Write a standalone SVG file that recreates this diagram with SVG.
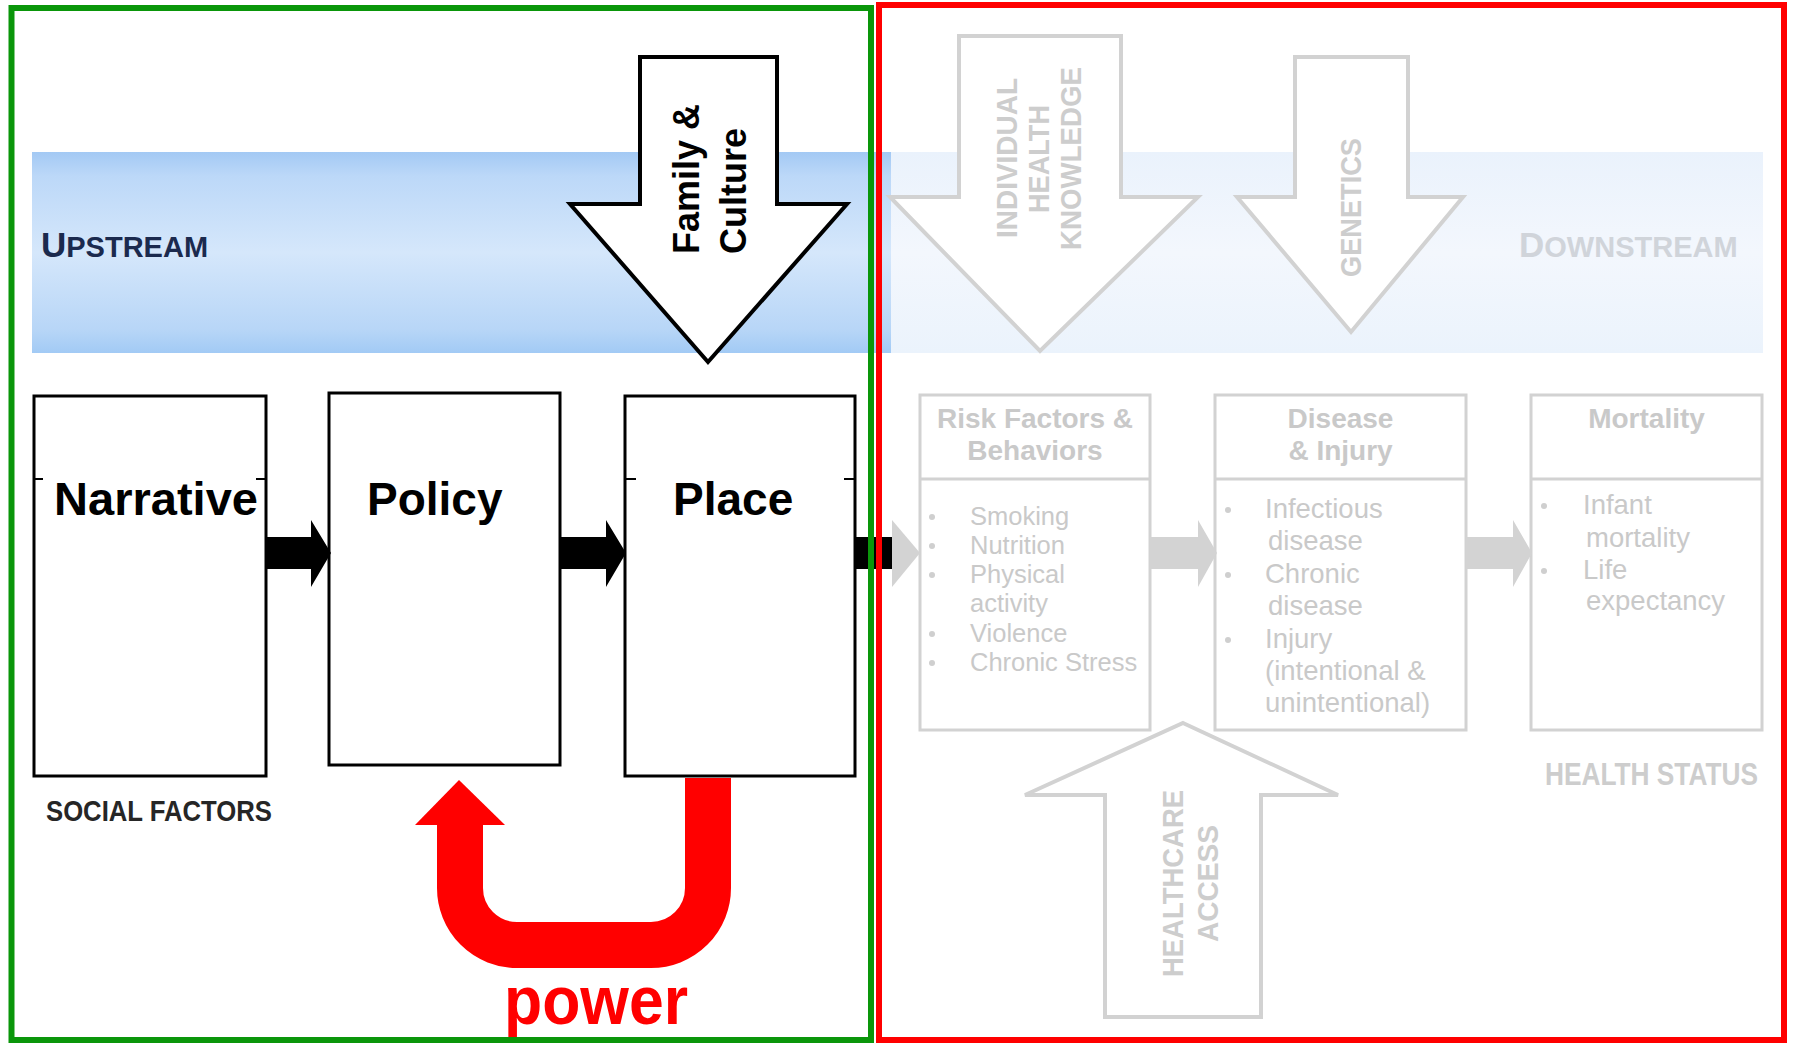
<svg xmlns="http://www.w3.org/2000/svg" width="1795" height="1044" viewBox="0 0 1795 1044">
<defs>
<linearGradient id="bandL" x1="0" y1="0" x2="0" y2="1">
<stop offset="0" stop-color="#a3c9f4"/>
<stop offset="0.12" stop-color="#bcd8f8"/>
<stop offset="0.5" stop-color="#d5e7fb"/>
<stop offset="0.88" stop-color="#b8d6f7"/>
<stop offset="1" stop-color="#a2caf5"/>
</linearGradient>
<linearGradient id="bandR" x1="0" y1="0" x2="0" y2="1">
<stop offset="0" stop-color="#eaf2fc"/>
<stop offset="0.5" stop-color="#f3f7fd"/>
<stop offset="1" stop-color="#ebf3fc"/>
</linearGradient>
<style>
text{font-family:"Liberation Sans",Arial,sans-serif}
.box{fill:#fff;stroke:#000;stroke-width:3}
.gbox{fill:#fff;stroke:#d2d2d2;stroke-width:3}
.big{font-size:46px;font-weight:bold;fill:#000}
.gtitle{font-size:28px;font-weight:bold;fill:#c9c9c9;text-anchor:middle}
.gbody{font-size:27.5px;fill:#c9c9c9}
.gbody2{font-size:25.5px;fill:#c9c9c9}
.bul{fill:#cfcfcf}
.garrow{fill:#fff;stroke:#d2d2d2;stroke-width:4}
.gvert{font-size:30px;font-weight:bold;fill:#cdcdcd;text-anchor:middle}
.blk{fill:#000}
.gry{fill:#d3d3d3}
</style>
</defs>
<rect width="1795" height="1044" fill="#fff"/>
<!-- bands -->
<rect x="32" y="152" width="859" height="201" fill="url(#bandL)"/>
<rect x="891" y="152" width="872" height="201" fill="url(#bandR)"/>
<g id="labels">
<text x="41" y="257" fill="#1b2a4e" font-weight="bold"><tspan font-size="35">U</tspan><tspan font-size="29">PSTREAM</tspan></text>
<text x="1519" y="257" fill="#d0d4da" font-weight="bold"><tspan font-size="35">D</tspan><tspan font-size="29">OWNSTREAM</tspan></text>
<text x="46" y="821" fill="#262626" font-weight="bold" font-size="30" textLength="226" lengthAdjust="spacingAndGlyphs">SOCIAL FACTORS</text>
<text x="1545" y="785" fill="#cdcdcd" font-weight="bold" font-size="31" textLength="213" lengthAdjust="spacingAndGlyphs">HEALTH STATUS</text>
</g>
<!-- faded right side arrows -->
<g id="individual-health-knowledge">
<polygon class="garrow" points="959,36 1121,36 1121,197 1198,197 1040,351 890,197 959,197"/>
<text class="gvert" transform="translate(1017,158) rotate(-90)" textLength="160" lengthAdjust="spacingAndGlyphs">INDIVIDUAL</text>
<text class="gvert" transform="translate(1049,159) rotate(-90)" textLength="108" lengthAdjust="spacingAndGlyphs">HEALTH</text>
<text class="gvert" transform="translate(1081,158.5) rotate(-90)" textLength="183" lengthAdjust="spacingAndGlyphs">KNOWLEDGE</text>
</g>
<g id="genetics">
<polygon class="garrow" points="1295,57 1408,57 1408,197 1463,197 1351,332 1237,197 1295,197"/>
<text class="gvert" transform="translate(1361,207.5) rotate(-90)" textLength="139" lengthAdjust="spacingAndGlyphs">GENETICS</text>
</g>
<g id="healthcare-access">
<polygon class="garrow" points="1183,723 1338,795 1261,795 1261,1017 1105,1017 1105,795 1025,795"/>
<text class="gvert" transform="translate(1183,883.5) rotate(-90)" textLength="187" lengthAdjust="spacingAndGlyphs">HEALTHCARE</text>
<text class="gvert" transform="translate(1218,883.5) rotate(-90)" textLength="117" lengthAdjust="spacingAndGlyphs">ACCESS</text>
</g>
<g id="risk-factors">
<rect class="gbox" x="920" y="395" width="230" height="335"/>
<line x1="920" y1="479" x2="1150" y2="479" stroke="#d2d2d2" stroke-width="3"/>
<text class="gtitle" x="1035" y="428">Risk Factors &amp;</text>
<text class="gtitle" x="1035" y="460">Behaviors</text>
<g class="bul"><circle cx="932" cy="517" r="3"/><circle cx="932" cy="546" r="3"/><circle cx="932" cy="575" r="3"/><circle cx="932" cy="634" r="3"/><circle cx="932" cy="663" r="3"/></g>
<text class="gbody2" x="970" y="525">Smoking</text>
<text class="gbody2" x="970" y="554">Nutrition</text>
<text class="gbody2" x="970" y="583">Physical</text>
<text class="gbody2" x="970" y="612">activity</text>
<text class="gbody2" x="970" y="642">Violence</text>
<text class="gbody2" x="970" y="671">Chronic Stress</text>
</g>
<g id="disease-injury">
<rect class="gbox" x="1215" y="395" width="251" height="335"/>
<line x1="1215" y1="479" x2="1466" y2="479" stroke="#d2d2d2" stroke-width="3"/>
<text class="gtitle" x="1340.5" y="428">Disease</text>
<text class="gtitle" x="1340.5" y="460">&amp; Injury</text>
<g class="bul"><circle cx="1228" cy="510" r="3"/><circle cx="1228" cy="575" r="3"/><circle cx="1228" cy="640" r="3"/></g>
<text class="gbody" x="1265" y="518">Infectious</text>
<text class="gbody" x="1268" y="550">disease</text>
<text class="gbody" x="1265" y="583">Chronic</text>
<text class="gbody" x="1268" y="615">disease</text>
<text class="gbody" x="1265" y="648">Injury</text>
<text class="gbody" x="1265" y="680">(intentional &amp;</text>
<text class="gbody" x="1265" y="712">unintentional)</text>
</g>
<g id="mortality">
<rect class="gbox" x="1531" y="395" width="231" height="335"/>
<line x1="1531" y1="479" x2="1762" y2="479" stroke="#d2d2d2" stroke-width="3"/>
<text class="gtitle" x="1646.5" y="428">Mortality</text>
<g class="bul"><circle cx="1544" cy="506" r="3"/><circle cx="1544" cy="571" r="3"/></g>
<text class="gbody" x="1583" y="514">Infant</text>
<text class="gbody" x="1586" y="547">mortality</text>
<text class="gbody" x="1583" y="579">Life</text>
<text class="gbody" x="1586" y="610">expectancy</text>
</g>
<!-- foreground nodes -->
<g id="narrative">
<rect class="box" x="34" y="396" width="232" height="380"/>
<path d="M34 479h9M256 479h10" stroke="#000" stroke-width="2"/>
<text class="big" x="54" y="515" textLength="204" lengthAdjust="spacingAndGlyphs">Narrative</text>
</g>
<g id="policy">
<rect class="box" x="329" y="393" width="231" height="372"/>
<text class="big" x="367" y="515">Policy</text>
</g>
<g id="place">
<rect class="box" x="625" y="396" width="230" height="380"/>
<path d="M625 479h11M844 479h11" stroke="#000" stroke-width="2"/>
<text class="big" x="673" y="515">Place</text>
</g>
<g id="family-culture">
<polygon points="640,57 777,57 777,204 847,204 708,362 570,204 640,204" fill="#fff" stroke="#000" stroke-width="4"/>
<text transform="translate(699,254) rotate(-90)" font-size="36" font-weight="bold" fill="#000">Family &amp;</text>
<text transform="translate(746,254) rotate(-90)" font-size="36" font-weight="bold" fill="#000">Culture</text>
</g>
<g id="connectors">
<polygon class="blk" points="266,537 311,537 311,520 331,553 311,587 311,569 266,569"/>
<polygon class="blk" points="560,537 606,537 606,520 626,553 606,587 606,569 560,569"/>
<rect class="blk" x="855" y="537" width="37" height="32"/>
<polygon class="gry" points="892,520 920,553 892,587"/>
<polygon class="gry" points="1150,537 1198,537 1198,520 1217,553 1198,587 1198,569 1150,569"/>
<polygon class="gry" points="1466,537 1513,537 1513,520 1532,553 1513,587 1513,569 1466,569"/>
<path d="M708 778V888A57 57 0 0 1 651 945H517A57 57 0 0 1 460 888V822" fill="none" stroke="#ff0000" stroke-width="46"/>
<polygon points="415,825 459,780 505,825" fill="#ff0000"/>
</g>
<text x="504" y="1024" font-size="68" font-weight="bold" fill="#ff0000" textLength="184" lengthAdjust="spacingAndGlyphs">power</text>
<!-- frames -->
<rect x="11.5" y="8" width="859.5" height="1032" fill="none" stroke="#0a960a" stroke-width="6"/>
<rect x="879" y="5" width="905" height="1035" fill="none" stroke="#ff0000" stroke-width="6"/>
</svg>
